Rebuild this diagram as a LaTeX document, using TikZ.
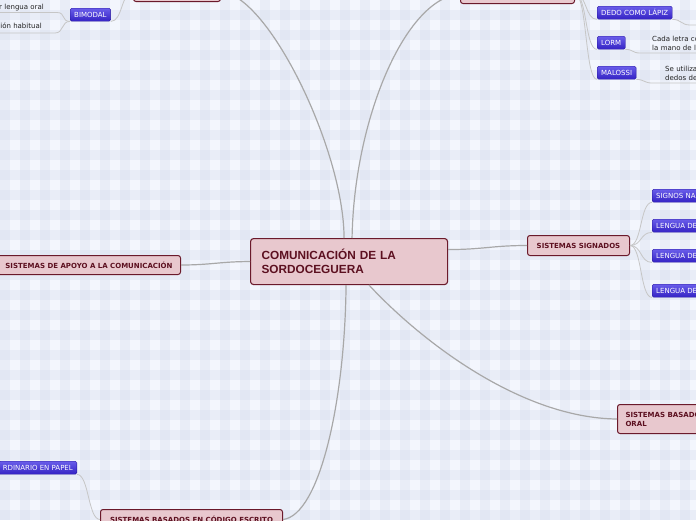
\documentclass[tikz,border=0pt]{standalone}
\usepackage{fontspec}
\newfontfamily\vfont{DejaVu Sans}
\newfontfamily\afont{Liberation Sans}
\definecolor{bgbase}{HTML}{F3F6FD}
\definecolor{stripe}{HTML}{D3DAEA}
\definecolor{mfill}{HTML}{E8C8CE}
\definecolor{mdraw}{HTML}{6B1A2B}
\definecolor{mtext}{HTML}{5C1020}
\definecolor{btop}{HTML}{6A5EEA}
\definecolor{bbot}{HTML}{3422C4}
\definecolor{bdraw}{HTML}{2A1A9E}
\definecolor{conn}{HTML}{A8A8A8}
\definecolor{subconn}{HTML}{C6C6C6}
\definecolor{notetext}{HTML}{222222}
\tikzset{
 mainbox/.style={draw=mdraw, line width=1pt, fill=mfill, rounded corners=2.5pt, text=mtext,
   font=\vfont\bfseries\fontsize{7}{9}\selectfont, inner xsep=8pt, inner ysep=0pt, minimum height=19pt},
 centerbox/.style={draw=mdraw, line width=1.1pt, fill=mfill, rounded corners=3pt, text=mtext,
   font=\afont\bfseries\fontsize{11.8}{13.5}\selectfont, inner xsep=11pt, minimum height=46pt,
   text width=175pt, align=left},
 bluebox/.style={draw=bdraw, line width=0.4pt, top color=btop, bottom color=bbot, rounded corners=1.5pt,
   text=white, font=\vfont\fontsize{7}{9}\selectfont, inner xsep=4pt, inner ysep=0pt, minimum height=13pt},
 note/.style={font=\vfont\fontsize{7}{9}\selectfont, text=notetext, inner ysep=1.5pt},
 note2/.style={font=\vfont\fontsize{7}{9}\selectfont, text=notetext, align=left, text width=60pt, inner ysep=2.5pt},
 mainline/.style={draw=conn, line width=1.2pt},
 subline/.style={draw=subconn, line width=0.8pt},
}
\begin{document}
\begin{tikzpicture}[x=1pt,y=-1pt]
\useasboundingbox (0,0) rectangle (696,520);
\clip (0,0) rectangle (696,520);
% background plaid
\fill[bgbase] (0,0) rectangle (696,520);
\foreach \i in {0,...,35} {\fill[stripe,fill opacity=0.3] (20*\i,0) rectangle +(10,520);}
\foreach \j in {0,...,26} {\fill[stripe,fill opacity=0.3] (0,20*\j+10) rectangle +(696,10);}

% main nodes
\node[centerbox, anchor=north west] (c) at (250,238) {COMUNICACIÓN DE LA\\SORDOCEGUERA};
\node[mainbox, anchor=north west, minimum width=87pt] (tl) at (133,-18) {};
\node[mainbox, anchor=north west, minimum width=114pt] (tr) at (460,-16) {};
\node[mainbox, anchor=north east] (apoyo) at (181,255) {SISTEMAS DE APOYO A LA COMUNICACIÓN};
\node[mainbox, anchor=north west, minimum height=20pt, minimum width=102pt] (sig) at (527,235) {SISTEMAS SIGNADOS};
\node[mainbox, anchor=north west, minimum height=29pt, align=left] (oral) at (617,404) {SISTEMAS BASADOS\\ORAL};
\node[mainbox, anchor=north west, minimum width=182pt, minimum height=20pt] (esc) at (100,509) {SISTEMAS BASADOS EN CÓDIGO ESCRITO};

% blue sub nodes
\node[bluebox, anchor=north west] (bim) at (70,8) {BIMODAL};
\node[bluebox, anchor=north west] (dedo) at (597,6) {DEDO COMO LÁPIZ};
\node[bluebox, anchor=north west] (lorm) at (597,36) {LORM};
\node[bluebox, anchor=north west] (mal) at (597,66) {MALOSSI};
\node[bluebox, anchor=north west] (sn) at (652,189) {SIGNOS NA};
\node[bluebox, anchor=north west] (ld1) at (652,219) {LENGUA DE};
\node[bluebox, anchor=north west] (ld2) at (652,249) {LENGUA DE};
\node[bluebox, anchor=north west] (ld3) at (652,284) {LENGUA DE};
\node[bluebox, anchor=north east] (pap) at (77,461) {RDINARIO EN PAPEL};

% notes
\node[note, anchor=south east, inner xsep=13pt] (n1) at (57,12.5) {r lengua oral};
\node[note, anchor=south east, inner xsep=13pt, inner ysep=4pt] (n2) at (55,33) {ción habitual};
\node[note2, anchor=south west, inner xsep=12pt] (nl) at (640,53) {Cada letra co\\la mano de l};
\node[note2, anchor=south west, inner xsep=13pt] (nm) at (652,83) {Se utiliza\\dedos de};
\coordinate (dd) at (690,25);
\coordinate (dd2) at (730,25);

% main connectors
\draw[mainline] ([xshift=-5pt]c.north) .. controls (344,150) and (268,-6) .. (tl.east);
\draw[mainline] ([xshift=3pt]c.north) .. controls (354,120) and (405,-2) .. (tr.west);
\draw[mainline] (c.west) .. controls +(-30,0) and +(30,0) .. (apoyo.east);
\draw[mainline] ([yshift=12pt]c.east) .. controls +(35,0) and +(-35,0) .. (sig.west);
\draw[mainline] ([xshift=20pt]c.south) .. controls (420,340) and (520,418) .. (oral.west);
\draw[mainline] ([xshift=-3pt]c.south) .. controls (345,400) and (320,515) .. (esc.east);

% sub connectors
\draw[subline] (tl.west) .. controls +(-12,0) and +(12,0) .. (bim.south east);
\draw[subline] (bim.south west) .. controls +(-9,0) and +(9,0) .. (n1.south east) -- (n1.south west);
\draw[subline] (bim.south west) .. controls +(-9,0) and +(9,0) .. (n2.south east) -- (n2.south west);
\draw[subline] (tr.east) .. controls +(12,0) and +(-12,0) .. (dedo.south west);
\draw[subline] (tr.east) .. controls +(12,0) and +(-12,0) .. (lorm.south west);
\draw[subline] (tr.east) .. controls +(12,0) and +(-12,0) .. (mal.south west);
\draw[subline] (dedo.south east) .. controls +(9,0) and +(-9,0) .. (dd) -- (dd2);
\draw[subline] (lorm.south east) .. controls +(8,0) and +(-8,0) .. (nl.south west) -- (nl.south east);
\draw[subline] (mal.south east) .. controls +(8,0) and +(-8,0) .. (nm.south west) -- (nm.south east);
\foreach \t in {sn,ld1,ld2,ld3}
  \draw[subline] (sig.east) .. controls +(12,0) and +(-12,0) .. (\t.south west);
\draw[subline] (esc.west) .. controls +(-12,0) and +(12,0) .. (pap.south east);
\end{tikzpicture}
\end{document}
